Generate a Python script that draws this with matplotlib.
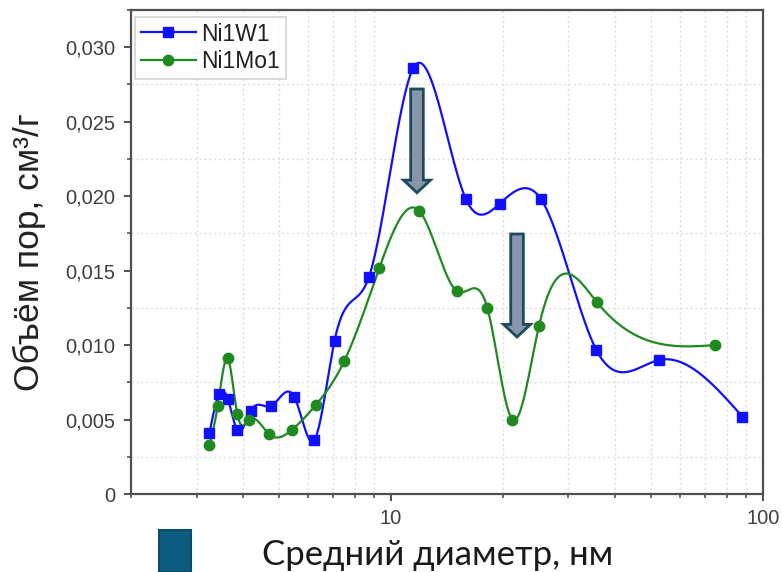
import numpy as np
import matplotlib
matplotlib.use("Agg")
import matplotlib.pyplot as plt
from matplotlib.ticker import FuncFormatter, MultipleLocator, LogLocator, NullFormatter
from matplotlib.patches import FancyArrow, Rectangle

# ---- data ----
w_x = [3.25, 3.45, 3.64, 3.86, 4.20, 4.75, 5.50, 6.21, 7.05, 8.73, 11.48, 15.9, 19.6, 25.3, 35.6, 52.6, 88.0]
w_y = [0.0041, 0.0067, 0.0064, 0.0043, 0.0056, 0.0059, 0.0065, 0.0036, 0.0103, 0.0146, 0.0286, 0.0198, 0.0195, 0.0198, 0.0097, 0.0090, 0.0052]
mo_x = [3.25, 3.42, 3.64, 3.86, 4.16, 4.71, 5.41, 6.29, 7.48, 9.31, 11.92, 15.08, 18.15, 21.2, 25.0, 35.7, 74.3]
mo_y = [0.0033, 0.0059, 0.0091, 0.0054, 0.0050, 0.0040, 0.0043, 0.0060, 0.0089, 0.0152, 0.0190, 0.0136, 0.0125, 0.0050, 0.0113, 0.0129, 0.0100]
series_names = ["Ni1W1", "Ni1Mo1"]
y_label = "Объём пор, см³/г"
x_label = "Средний диаметр, нм"

XMIN, XMAX = 2, 100
YMIN, YMAX = 0, 0.0325

W, H = 782, 572
fig = plt.figure(figsize=(W / 100, H / 100), dpi=100)
ax_l, ax_r, ax_t, ax_b = 131, 763, 10, 494
ax = fig.add_axes([ax_l / W, 1 - ax_b / H, (ax_r - ax_l) / W, (ax_b - ax_t) / H])


def natural_spline(t, v, tn):
    t = np.asarray(t, float)
    v = np.asarray(v, float)
    n = len(t)
    h = np.diff(t)
    A = np.zeros((n, n))
    r = np.zeros(n)
    A[0, 0] = 1
    A[-1, -1] = 1
    for i in range(1, n - 1):
        A[i, i - 1] = h[i - 1]
        A[i, i] = 2 * (h[i - 1] + h[i])
        A[i, i + 1] = h[i]
        r[i] = 6 * ((v[i + 1] - v[i]) / h[i] - (v[i] - v[i - 1]) / h[i - 1])
    M = np.linalg.solve(A, r)
    idx = np.clip(np.searchsorted(t, tn) - 1, 0, n - 2)
    a = t[idx + 1] - tn
    b = tn - t[idx]
    hi = h[idx]
    return (M[idx] * a ** 3 + M[idx + 1] * b ** 3) / (6 * hi) + \
        (v[idx] / hi - M[idx] * hi / 6) * a + (v[idx + 1] / hi - M[idx + 1] * hi / 6) * b


def smooth(xs, ys):
    lx = np.log10(np.asarray(xs, float))
    ln = np.linspace(lx[0], lx[-1], 2000)
    return 10 ** ln, natural_spline(lx, ys, ln)


blue = "#1010ff"
green = "#1f8a1f"
for xs, ys, c, m, ms, name in [(w_x, w_y, blue, "s", 6.8, series_names[0]),
                               (mo_x, mo_y, green, "o", 7.5, series_names[1])]:
    sx, sy = smooth(xs, ys)
    ax.plot(sx, sy, color=c, lw=1.6, zorder=3)
    ax.plot(xs, ys, ls="none", marker=m, ms=ms, color=c, zorder=4)
    ax.plot([], [], color=c, lw=1.6, marker=m, ms=ms, label=name)

ax.set_xscale("log")
ax.set_xlim(XMIN, XMAX)
ax.set_ylim(YMIN, YMAX)
ax.yaxis.set_major_locator(MultipleLocator(0.005))
ax.yaxis.set_minor_locator(MultipleLocator(0.0025))
ax.yaxis.set_major_formatter(FuncFormatter(lambda v, p: "0" if abs(v) < 1e-12 else f"{v:.3f}".replace(".", ",")))
ax.xaxis.set_major_locator(LogLocator(base=10, numticks=10))
ax.xaxis.set_minor_locator(LogLocator(base=10, subs=np.arange(2, 10), numticks=20))
ax.xaxis.set_major_formatter(FuncFormatter(lambda v, p: f"{v:g}"))
ax.xaxis.set_minor_formatter(NullFormatter())

ax.grid(True, which="minor", color="#dcdcdc", ls=(0, (1.5, 2)), lw=1.0)
ax.grid(False, which="major")
for s in ax.spines.values():
    s.set_color("#505050")
    s.set_linewidth(1.6)
ax.tick_params(which="major", direction="out", length=5, width=1.4, color="#505050",
               labelsize=14.5, labelcolor="#404040", pad=6, labelfontfamily="Liberation Sans")
ax.tick_params(which="minor", direction="out", length=3, width=1.2, color="#505050")

leg = ax.legend(loc="upper left", bbox_to_anchor=(0.006, 0.986), frameon=True, fancybox=False,
                edgecolor="#c8c8c8", prop={"family": "Liberation Sans", "size": 16.5},
                handlelength=2.4, handletextpad=0.25, borderpad=0.25, labelspacing=0.2,
                borderaxespad=0.0)
leg.get_frame().set_linewidth(1.2)
for t in leg.get_texts():
    t.set_color("#202020")

# arrows (axes-fraction coordinates)
for cx, top, tip in [(0.4525, 0.8368, 0.6225), (0.6108, 0.5372, 0.3244)]:
    ax.add_patch(FancyArrow(cx, top, 0, tip - top, width=0.02, head_width=0.0427,
                            head_length=0.026, length_includes_head=True,
                            transform=ax.transAxes, facecolor="#8796ab",
                            edgecolor="#1d4a5c", lw=2, zorder=6))

fig.text(0.038, 0.560, y_label, rotation=90, ha="center", va="center",
         fontsize=25.5, family="Liberation Sans", color="#222222")
fig.text(0.559, 0.030, x_label, ha="center", va="center",
         fontsize=25, family="Lato", color="#1a1a1a")
fig.add_artist(Rectangle((159 / W, 0), 32 / W, 42 / H, transform=fig.transFigure,
                         facecolor="#0b5c7e", edgecolor="#0a4d68", lw=1.5))

fig.savefig("out.png", dpi=100)
